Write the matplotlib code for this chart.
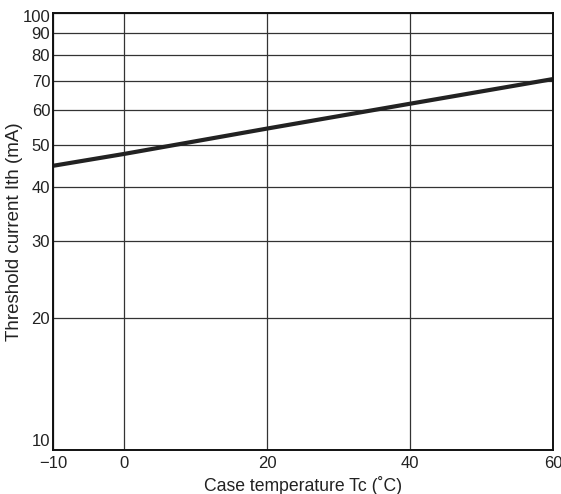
import matplotlib
matplotlib.use("Agg")
import matplotlib.pyplot as plt
from matplotlib.ticker import FixedLocator, NullLocator, FixedFormatter
from matplotlib.transforms import ScaledTranslation

temps = [-10, 0, 20, 40, 60]
ith = [44.7, 47.6, 54.4, 62.0, 70.6]
y_ticks = [10, 20, 30, 40, 50, 60, 70, 80, 90, 100]
y_labels = ["10", "20", "30", "40", "50", "60", "70", "80", "90", "100"]
x_ticks = [-10, 0, 20, 40, 60]
x_labels = ["\u221210", "0", "20", "40", "60"]

plt.rcParams['font.family'] = ['Liberation Sans', 'DejaVu Sans']

fig = plt.figure(figsize=(5.61, 4.94), dpi=100)
ax = fig.add_axes([0.0945, 0.0891, 0.8912, 0.8846])
ax.set_yscale('log')
ax.set_xlim(-10, 60)
ax.set_ylim(10, 100)

ax.plot(temps, ith, color='#222222', lw=3.0, solid_capstyle='butt')

ax.yaxis.set_major_locator(FixedLocator(y_ticks))
ax.yaxis.set_major_formatter(FixedFormatter(y_labels))
ax.yaxis.set_minor_locator(NullLocator())
ax.xaxis.set_major_locator(FixedLocator(x_ticks))
ax.xaxis.set_major_formatter(FixedFormatter(x_labels))
ax.xaxis.set_minor_locator(NullLocator())

ax.grid(True, which='major', color='#333333', lw=0.9)
ax.tick_params(axis='y', length=0, labelsize=12, pad=2, colors='#222222')
ax.tick_params(axis='x', length=0, labelsize=12, pad=4, colors='#222222')
for s in ax.spines.values():
    s.set_color('#111111')
    s.set_linewidth(1.4)

fig.canvas.draw()
for t in ax.get_yticklabels():
    if t.get_text() == "10":
        t.set_verticalalignment('bottom')
        t.set_transform(t.get_transform() + ScaledTranslation(0, 0.01, fig.dpi_scale_trans))
    if t.get_text() == "100":
        t.set_transform(t.get_transform() + ScaledTranslation(0, -0.03, fig.dpi_scale_trans))

ax.set_xlabel("Case temperature Tc (\u02daC)", fontsize=12.7, labelpad=4, color='#222222')
ax.set_ylabel("Threshold current Ith (mA)", fontsize=13.5, color='#222222', va='center')
ax.yaxis.set_label_coords(-0.078, 0.5)

fig.savefig("out.png", dpi=100)
